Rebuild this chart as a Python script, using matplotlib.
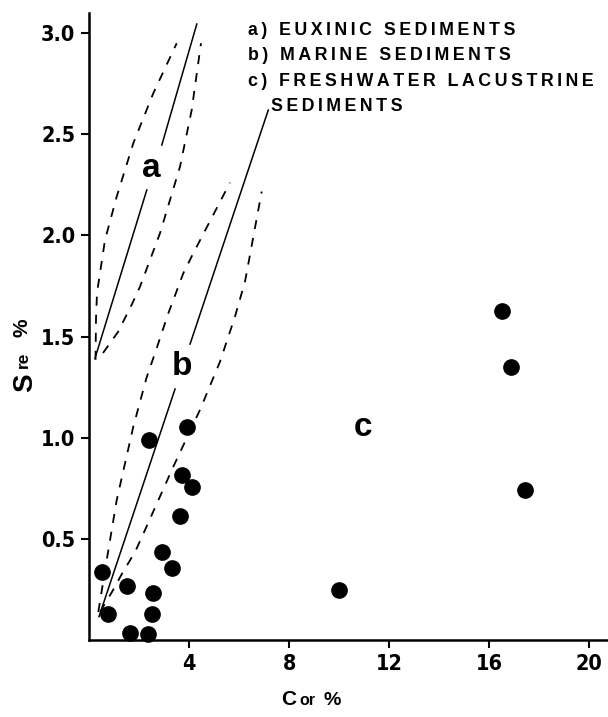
import matplotlib
matplotlib.use("Agg")
import matplotlib.pyplot as plt

# ---------------- data ----------------
c_org = [0.50, 0.74, 1.51, 1.63, 2.33, 2.37, 2.55, 2.52, 2.92, 3.30, 3.64, 3.70, 4.11, 3.90,
         16.52, 16.87, 17.43, 10.00]
s_red = [0.336, 0.13, 0.267, 0.036, 0.03, 0.987, 0.235, 0.127, 0.433, 0.357, 0.614, 0.818, 0.757, 1.051,
         1.629, 1.349, 0.740, 0.247]

# zone a (euxinic): regression line (two pieces around the label) and dashed envelope
a_line_lo_x = [0.23, 2.30]
a_line_lo_y = [1.394, 2.225]
a_line_hi_x = [2.90, 4.30]
a_line_hi_y = [2.447, 3.045]
a_left_x = [0.248, 0.268, 0.308, 0.628, 1.096, 1.76, 2.56, 3.496]
a_left_y = [1.385, 1.592, 1.716, 1.978, 2.192, 2.456, 2.703, 2.950]
a_right_x = [0.548, 1.148, 1.708, 2.028, 2.828, 3.628, 4.096, 4.468]
a_right_y = [1.419, 1.523, 1.661, 1.747, 2.011, 2.340, 2.620, 2.950]

# zone b (marine)
b_line_lo_x = [0.388, 3.43]
b_line_lo_y = [0.116, 1.241]
b_line_hi_x = [4.03, 7.16]
b_line_hi_y = [1.463, 2.620]
b_left_x = [0.36, 0.696, 1.096, 1.76, 2.288, 2.628, 3.16, 3.76, 4.16, 5.628]
b_left_y = [0.139, 0.396, 0.692, 1.055, 1.296, 1.418, 1.615, 1.813, 1.912, 2.261]
b_right_x = [0.428, 0.908, 1.348, 1.828, 2.228, 3.36, 4.428, 5.228, 5.828, 6.228, 6.428, 6.896]
b_right_y = [0.139, 0.238, 0.337, 0.435, 0.544, 0.857, 1.138, 1.376, 1.599, 1.772, 1.904, 2.217]

x_ticks = [4, 8, 12, 16, 20]
y_ticks = [0.5, 1.0, 1.5, 2.0, 2.5, 3.0]
y_ticklabels = ["0.5", "1.0", "1.5", "2.0", "2.5", "3.0"]

legend_lines = ["a) EUXINIC SEDIMENTS", "b) MARINE SEDIMENTS",
                "c) FRESHWATER LACUSTRINE", "SEDIMENTS"]
zone_labels = ["a", "b", "c"]
zone_label_x = [2.50, 3.70, 10.96]
zone_label_y = [2.33, 1.35, 1.05]

sans = ["Liberation Sans", "DejaVu Sans"]
tickfam = ["Liberation Sans Narrow", "DejaVu Sans"]


def spaced(s):
    # wide letter spacing as in the printed legend
    return "\u2009".join(s)


fig = plt.figure(figsize=(6.08, 7.17), dpi=100)
ax = fig.add_axes([0.1469, 0.1073, 0.851, 0.8747])
ax.set_xlim(0, 20.7)
ax.set_ylim(0, 3.1)

for s in ["top", "right"]:
    ax.spines[s].set_visible(False)
for s in ["left", "bottom"]:
    ax.spines[s].set_linewidth(1.8)

ax.set_xticks(x_ticks)
ax.set_xticklabels([str(t) for t in x_ticks])
ax.set_yticks(y_ticks)
ax.set_yticklabels(y_ticklabels)
ax.tick_params(direction="out", length=6, width=1.5, pad=4)
for lab in ax.get_xticklabels() + ax.get_yticklabels():
    lab.set_fontfamily(tickfam)
    lab.set_fontstretch("condensed")
    lab.set_fontweight("bold")
    lab.set_fontsize(15.5)

lw_solid = 1.1
lw_dash = 1.3
dash = (0, (5, 5))
ax.plot(a_line_lo_x, a_line_lo_y, color="black", lw=lw_solid)
ax.plot(a_line_hi_x, a_line_hi_y, color="black", lw=lw_solid)
ax.plot(a_left_x, a_left_y, color="black", lw=lw_dash, ls=dash)
ax.plot(a_right_x, a_right_y, color="black", lw=lw_dash, ls=dash)
ax.plot(b_line_lo_x, b_line_lo_y, color="black", lw=lw_solid)
ax.plot(b_line_hi_x, b_line_hi_y, color="black", lw=lw_solid)
ax.plot(b_left_x, b_left_y, color="black", lw=lw_dash, ls=dash)
ax.plot(b_right_x, b_right_y, color="black", lw=lw_dash, ls=dash)

ax.plot(c_org, s_red, "o", color="black", markersize=11, ls="none", clip_on=False)

for lab, x, y in zip(zone_labels, zone_label_x, zone_label_y):
    ax.text(x, y, lab, fontsize=24, fontweight="bold", family=sans,
            ha="center", va="center")

# legend block (figure pixel positions)
W, H = 608, 717
leg_x = [248, 248, 248, 271]
leg_base = [35, 60, 86, 111]
for t, x, yb in zip(legend_lines, leg_x, leg_base):
    fig.text(x / W, 1 - yb / H, spaced(t), fontsize=12.8, fontweight="bold", family=sans,
             ha="left", va="baseline")

# x axis label  C_or %
fig.text(281 / W, 1 - 705 / H, "C", fontsize=15, fontweight="bold", family=sans,
         ha="left", va="baseline")
fig.text(299 / W, 1 - 705 / H, "or", fontsize=11.5, fontweight="bold", family=sans,
         ha="left", va="baseline")
fig.text(324 / W, 1 - 705 / H, "%", fontsize=14, fontweight="bold", family=sans,
         ha="left", va="baseline")

# y axis label  S_re %  (rotated, reads bottom to top)
fig.text(32 / W, 1 - 392 / H, "S", fontsize=20, fontweight="bold", family=sans,
         ha="left", va="baseline", rotation=90, rotation_mode="anchor")
fig.text(28 / W, 1 - 368 / H, "re", fontsize=12.5, fontweight="bold", family=sans,
         ha="left", va="baseline", rotation=90, rotation_mode="anchor")
fig.text(28 / W, 1 - 337 / H, "%", fontsize=15, fontweight="bold", family=sans,
         ha="left", va="baseline", rotation=90, rotation_mode="anchor")

fig.savefig("out.png", dpi=100)
